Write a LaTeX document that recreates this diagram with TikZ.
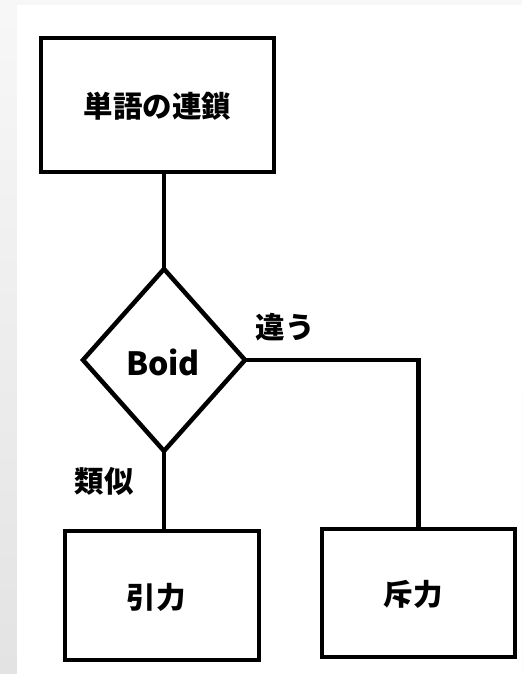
\documentclass[tikz,border=0pt]{standalone}
\usepackage{fontspec}
\setmainfont{Noto Sans CJK JP}
\usetikzlibrary{shapes.geometric}
\begin{document}
\begin{tikzpicture}[x=1pt,y=-1pt,
  line/.style={line width=4.5pt,draw=black},
  boxnode/.style={line,rectangle,inner sep=0pt,outer sep=0pt,fill=white},
  lbl/.style={font=\bfseries\fontsize{29.5}{31}\selectfont,inner sep=0pt},
  decision/.style={line,diamond,inner sep=0pt,outer sep=0pt,minimum width=162pt,minimum height=182pt,fill=white}]
\useasboundingbox (0,0) rectangle (522,674);
\shade[top color=black!3,bottom color=black!11] (0,0) rectangle (522,674);
\fill[white] (17,5) rectangle (522,674);
\node[boxnode,minimum width=233pt,minimum height=134pt] (top) at (157.5,105) {};
\node[lbl] (toptext) at (157.5,106) {単語の連鎖};
\node[decision] (d) at (164,360) {};
\node[font=\bfseries\fontsize{32}{34}\selectfont,inner sep=0pt] (boid) at (163,362) {Boid};
\node[boxnode,minimum width=194pt,minimum height=129pt] (left) at (162,595.5) {};
\node[lbl] (lefttext) at (156,597) {引力};
\node[boxnode,minimum width=193pt,minimum height=128pt] (right) at (418.5,593) {};
\node[lbl] (righttext) at (413,594) {斥力};
\coordinate (corner) at (418.5,360);
\node[lbl] (diff) at (285,327) {違う};
\node[lbl] (sim) at (104,481) {類似};
\draw[line] (top.south -| d.north) -- (d.north);
\draw[line] (d.south) -- (d.south |- left.north);
\draw[line] (d.east) -- (corner) -- (right.north -| corner);
\end{tikzpicture}
\end{document}
